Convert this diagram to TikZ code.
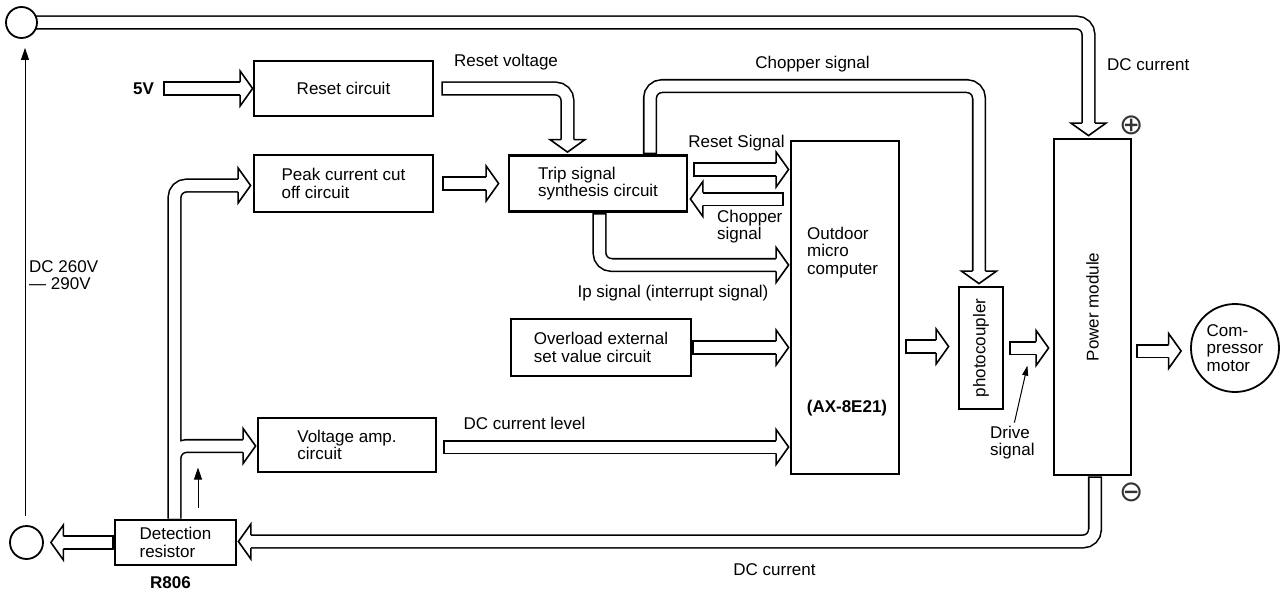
\documentclass[tikz,border=0pt]{standalone}
\usepackage{fontspec}
\setmainfont{Liberation Sans}
\newfontfamily\dejavu{DejaVu Sans}
\usetikzlibrary{arrows.meta, calc, backgrounds}

\begin{document}
\begin{tikzpicture}[
    x=1pt, y=1pt,
    font=\fontsize{17}{17.5}\selectfont,
    box/.style={draw, line width=2.8pt, fill=white, align=left, inner sep=0pt},
    term/.style={circle, draw, line width=1.8pt, fill=white, inner sep=0pt},
    lbl/.style={align=left, inner sep=0pt},
    bold/.style={inner sep=0pt, font=\fontsize{17}{17.5}\selectfont\bfseries},
    sign/.style={inner sep=0pt, text=black!80, font=\dejavu\fontsize{29}{29}\selectfont},
    bus/.style={line width=11pt, white, rounded corners=12pt, shorten <=1.6pt,
        preaction={draw=black, line width=14.2pt, shorten <=0pt}},
    thinarrow/.style={-{Triangle[length=12pt, width=8pt]}, line width=1pt},
    blkhead/.pic={\draw[line width=1.6pt, fill=white] (-12.5,6.3) -- (-12.5,17.5) -- (0,0) -- (-12.5,-17.5) -- (-12.5,-6.3);},
]
\useasboundingbox (0,0) rectangle (1286,-594);

% Terminals
\node[term, minimum size=31] (vtop) at (21.5,-22.5) {};
\node[term, minimum size=33] (vbot) at (26.5,-542.5) {};
\node[lbl, anchor=west] (dcv) at (29,-275) {DC 260V\\— 290V};

% Blocks
\node[box, minimum width=179, minimum height=55] (reset) at (343.5,-88.5) {Reset circuit};
\node[box, minimum width=179, minimum height=57] (peak) at (343.5,-183.5) {Peak current cut\\off circuit};
\node[box, minimum width=178, minimum height=56] (trip) at (598,-183.5) {Trip signal\\synthesis circuit};
\node[box, minimum width=180, minimum height=57] (over) at (601,-347.5) {Overload external\\set value circuit};
\node[box, minimum width=178, minimum height=54] (vamp) at (347,-445) {Voltage amp.\\circuit};
\node[box, minimum width=121, minimum height=45] (detect) at (175.5,-542.5) {Detection\\resistor};
\node[box, minimum width=108, minimum height=333] (micro) at (845,-307.5) {};
\node[box, minimum width=44, minimum height=122] (photo) at (981,-348) {};
\node[box, minimum width=77, minimum height=336] (power) at (1092.5,-307) {};
\node[term, minimum size=88, align=left] (motor) at (1235,-348) {Com-\\pressor\\motor};

% Texts in the tall blocks
\node[lbl, anchor=west] (microtxt) at (807,-252.5) {Outdoor\\micro\\computer};
\node[bold] (model) at (847,-408) {(AX-8E21)};
\node[rotate=90, inner sep=0pt] (phototxt) at (photo.center) {photocoupler};
\node[rotate=90, inner sep=0pt] (powertxt) at (power.center) {Power module};

% Labels
\node[bold] (v5) at (143.5,-88.5) {5V};
\node[bold] (r806) at (170.5,-583) {R806};
\node[lbl] (rvolt) at (506,-62) {Reset voltage};
\node[lbl] (chop) at (812.5,-64) {Chopper signal};
\node[lbl, anchor=west] (dctop) at (1107,-65) {DC current};
\node[lbl] (rsig) at (736.5,-143) {Reset Signal};
\node[lbl, anchor=west] (chopb) at (717,-226.5) {Chopper\\signal};
\node[lbl] (ip) at (673,-293) {Ip signal (interrupt signal)};
\node[lbl] (dclevel) at (524.5,-423) {DC current level};
\node[lbl] (dcbot) at (774.5,-570) {DC current};
\node[lbl, anchor=west] (drive) at (990,-442.5) {Drive\\signal};
\node[sign] (plus) at (1132,-125) {⊕};
\node[sign] (minus) at (1132,-492) {⊖};

\begin{scope}[on background layer]
% DC bus, top and bottom
\draw[bus] (vtop.center) -| ([xshift=-4,yshift=14]power.north);
\pic[rotate=-90] at ([xshift=-4,yshift=2]power.north) {blkhead};
\draw[bus] ([xshift=2.5]power.south) |- ([xshift=13,yshift=1]detect.east);
\pic[rotate=180] at ([xshift=1,yshift=1]detect.east) {blkhead};

% Detection resistor to amplifiers
\draw[bus] ([xshift=-1]detect.north) |- ([xshift=-14,yshift=-2]peak.west)
           ([xshift=-1]detect.north) |- ([xshift=-13,yshift=-1]vamp.west);
\pic at ([xshift=-2,yshift=-2]peak.west) {blkhead};
\pic at ([xshift=-1,yshift=-1]vamp.west) {blkhead};
\draw[bus] (detect.west) -- ([xshift=19]vbot.east);
\pic[rotate=180] at ([xshift=7]vbot.east) {blkhead};

% Reset and trip
\draw[bus] ([xshift=9]v5.east) -- ([xshift=-12]reset.west);
\pic at (reset.west) {blkhead};
\draw[bus] ([xshift=8]peak.east) -- ([xshift=-21]trip.west);
\pic at ([xshift=-9]trip.west) {blkhead};
\draw[bus] ([xshift=7]reset.east) -| ([xshift=-30.5,yshift=14]trip.north);
\pic[rotate=-90] at ([xshift=-30.5,yshift=2]trip.north) {blkhead};
\draw[bus] ([xshift=52]trip.north) -- ++(0,68) -| ([xshift=-2,yshift=14]photo.north);
\pic[rotate=-90] at ([xshift=-2,yshift=2]photo.north) {blkhead};

% Into and out of the micro computer
\draw[bus] ([xshift=5,yshift=14]trip.east) -- ([xshift=-12,yshift=138]micro.west);
\pic at ([xshift=-1,yshift=138]micro.west) {blkhead};
\draw[bus] ([xshift=-6,yshift=108.5]micro.west) -- ([xshift=14,yshift=-15.5]trip.east);
\pic[rotate=180] at ([xshift=2,yshift=-15.5]trip.east) {blkhead};
\draw[bus] ([xshift=1.5]trip.south) |- ([xshift=-12,yshift=42.5]micro.west);
\pic at ([xshift=-1,yshift=42.5]micro.west) {blkhead};
\draw[bus] (over.east) -- ([xshift=-12,yshift=-40]micro.west);
\pic at ([xshift=-1,yshift=-40]micro.west) {blkhead};
\draw[bus] ([xshift=6,yshift=-2]vamp.east) -- ([xshift=-12,yshift=-139.5]micro.west);
\pic at ([xshift=-1,yshift=-139.5]micro.west) {blkhead};
\draw[bus] ([xshift=5,yshift=-39]micro.east) -- ([xshift=-21,yshift=1.5]photo.west);
\pic at ([xshift=-9,yshift=1.5]photo.west) {blkhead};
\draw[bus] ([xshift=5]photo.east) -- ([xshift=-16,yshift=-41]power.west);
\pic at ([xshift=-4,yshift=-41]power.west) {blkhead};
\draw[bus] ([xshift=4,yshift=-44]power.east) -- ([xshift=-21,yshift=-3]motor.west);
\pic at ([xshift=-9,yshift=-3]motor.west) {blkhead};
\end{scope}

% Thin arrows
\draw[thinarrow] ([xshift=-1.5,yshift=9]vbot.north) -- ([xshift=3.5,yshift=-9]vtop.south);
\draw[thinarrow] ([xshift=22.5,yshift=11]detect.north) -- ++(0,40) coordinate (itip);
\draw[thinarrow, -{Triangle[length=10pt, width=6pt]}] ([xshift=2,yshift=3]drive.north) -- ++(13,57) coordinate (dtip);

\end{tikzpicture}
\end{document}
